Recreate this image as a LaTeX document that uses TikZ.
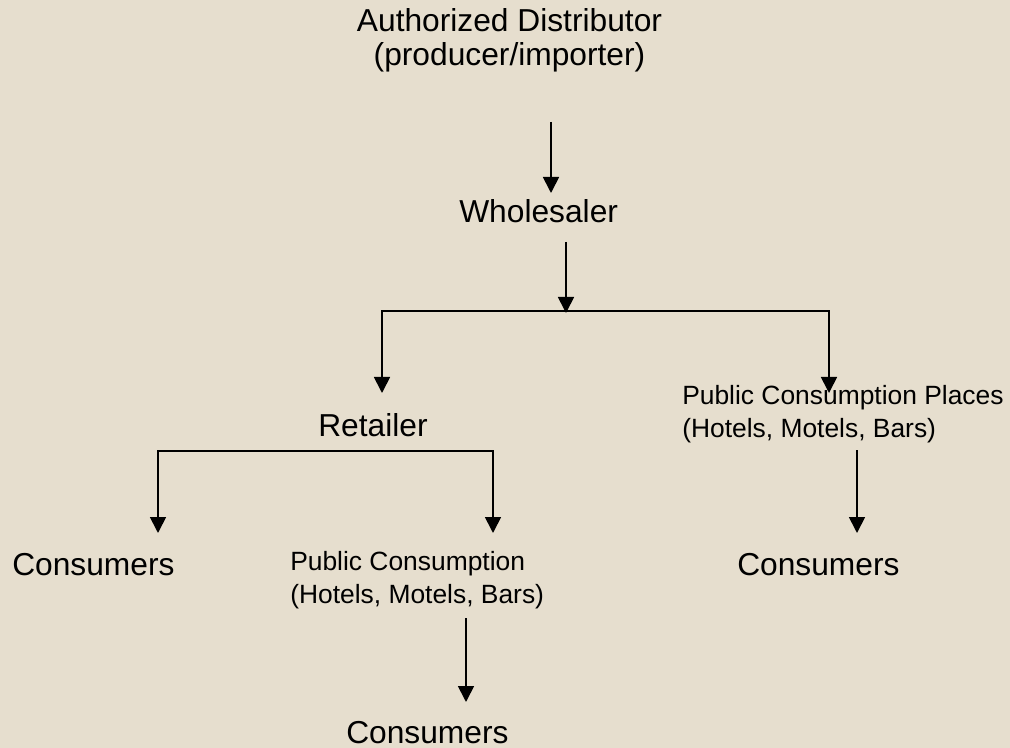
\documentclass[tikz,border=0pt]{standalone}
\usepackage{fontspec}
\setmainfont{Liberation Sans}
\usetikzlibrary{arrows.meta}
\definecolor{paper}{RGB}{230,222,206}
\tikzset{
  big/.style={inner sep=0pt, font=\fontsize{23.8}{25.5}\selectfont},
  small/.style={inner sep=0pt, font=\fontsize{19.8}{24.5}\selectfont},
  arr/.style={line width=1.3pt, -{Triangle[width=12pt,length=12pt]}},
}
\begin{document}
\begin{tikzpicture}[x=0.75pt,y=-0.75pt]
\fill[paper] (0,0) rectangle (1010,748);
\useasboundingbox (0,0) rectangle (1010,748);

\node[big, align=center, anchor=base] (dist) at (509.5,66) {Authorized Distributor\\(producer/importer)};
\node[big, anchor=base west] (whole) at (459,223) {Wholesaler};
\node[big, anchor=base west] (ret) at (318,436) {Retailer};
\node[small, align=left, anchor=base west] (pcp) at (682,437) {Public Consumption Places\\(Hotels, Motels, Bars)};
\node[big, anchor=base west] (consL) at (12,575) {Consumers};
\node[small, align=left, anchor=base west] (pc) at (290,603) {Public Consumption\\(Hotels, Motels, Bars)};
\node[big, anchor=base west] (consR) at (737,575) {Consumers};
\node[big, anchor=base west] (consB) at (346,743) {Consumers};

\coordinate (a1s) at (551,122);
\coordinate (a1e) at (551,193);
\coordinate (a2s) at (566,242);
\coordinate (a2e) at (566,313);
\coordinate (j1) at (566,311);
\coordinate (retIn) at (382,393);
\coordinate (pcpIn) at (829,393);
\coordinate (j2) at (325,451);
\coordinate (consLIn) at (158,533);
\coordinate (pcIn) at (493,533);
\coordinate (a3s) at (857,450);
\coordinate (a3e) at (857,533);
\coordinate (a4s) at (466,618);
\coordinate (a4e) at (466,702);

\draw[arr] (a1s) -- (a1e);
\draw[arr] (a2s) -- (a2e);
\draw[arr] (j1) -| (retIn);
\draw[arr] (j1) -| (pcpIn);
\draw[arr] (j2) -| (consLIn);
\draw[arr] (j2) -| (pcIn);
\draw[arr] (a3s) -- (a3e);
\draw[arr] (a4s) -- (a4e);
\end{tikzpicture}
\end{document}
